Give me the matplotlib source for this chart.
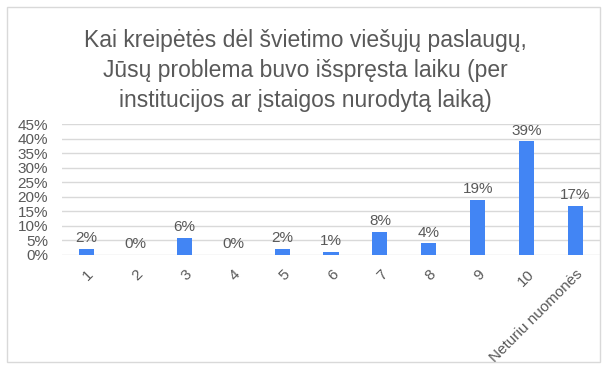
import matplotlib
matplotlib.use("Agg")
import matplotlib.pyplot as plt
from matplotlib.patches import Rectangle

categories = ["1", "2", "3", "4", "5", "6", "7", "8", "9", "10", "Neturiu nuomonės"]
values = [2, 0, 6, 0, 2, 1, 8, 4, 19, 39, 17]
yticks = [0, 5, 10, 15, 20, 25, 30, 35, 40, 45]
title = ("Kai kreipėtės dėl švietimo viešųjų paslaugų,\n"
         "Jūsų problema buvo išspręsta laiku (per\n"
         "institucijos ar įstaigos nurodytą laiką)")

plt.rcParams["font.family"] = ["Liberation Sans", "DejaVu Sans"]
text_color = "#595959"
bar_color = "#4285F4"
grid_color = "#d9d9d9"

fig = plt.figure(figsize=(6.10, 3.69), dpi=100)
fig.patches.append(Rectangle((7 / 610, 7 / 369), 593 / 610, 355 / 369,
                             transform=fig.transFigure, fill=False,
                             edgecolor=grid_color, linewidth=1))

ax = fig.add_axes([62 / 610, 114 / 369, 538 / 610, 131 / 369])
x = range(len(categories))
ax.bar(x, values, width=0.31, color=bar_color, zorder=3)
for xi, v in zip(x, values):
    ax.text(xi, v + 1.3, f"{v}%", ha="center", va="bottom",
            fontsize=11, color=text_color)

ax.set_xlim(-0.5, len(categories) - 0.5)
ax.set_ylim(0, 45)
ax.set_yticks(yticks)
ax.set_yticklabels([f"{t}%" for t in yticks], fontsize=11, color=text_color)
ax.set_xticks(list(x))
ax.set_xticklabels(categories, rotation=45, ha="right", rotation_mode="anchor",
                   fontsize=11, color=text_color)
ax.tick_params(axis="both", length=0)
ax.tick_params(axis="x", pad=9)
ax.tick_params(axis="y", pad=10)
ax.yaxis.grid(True, color=grid_color, linewidth=1, zorder=0)
for s in ax.spines.values():
    s.set_visible(False)

fig.text(0.5, 1 - 29 / 369, title, ha="center", va="top", fontsize=16.5,
         color=text_color, linespacing=1.4)

fig.savefig("out.png", dpi=100)
